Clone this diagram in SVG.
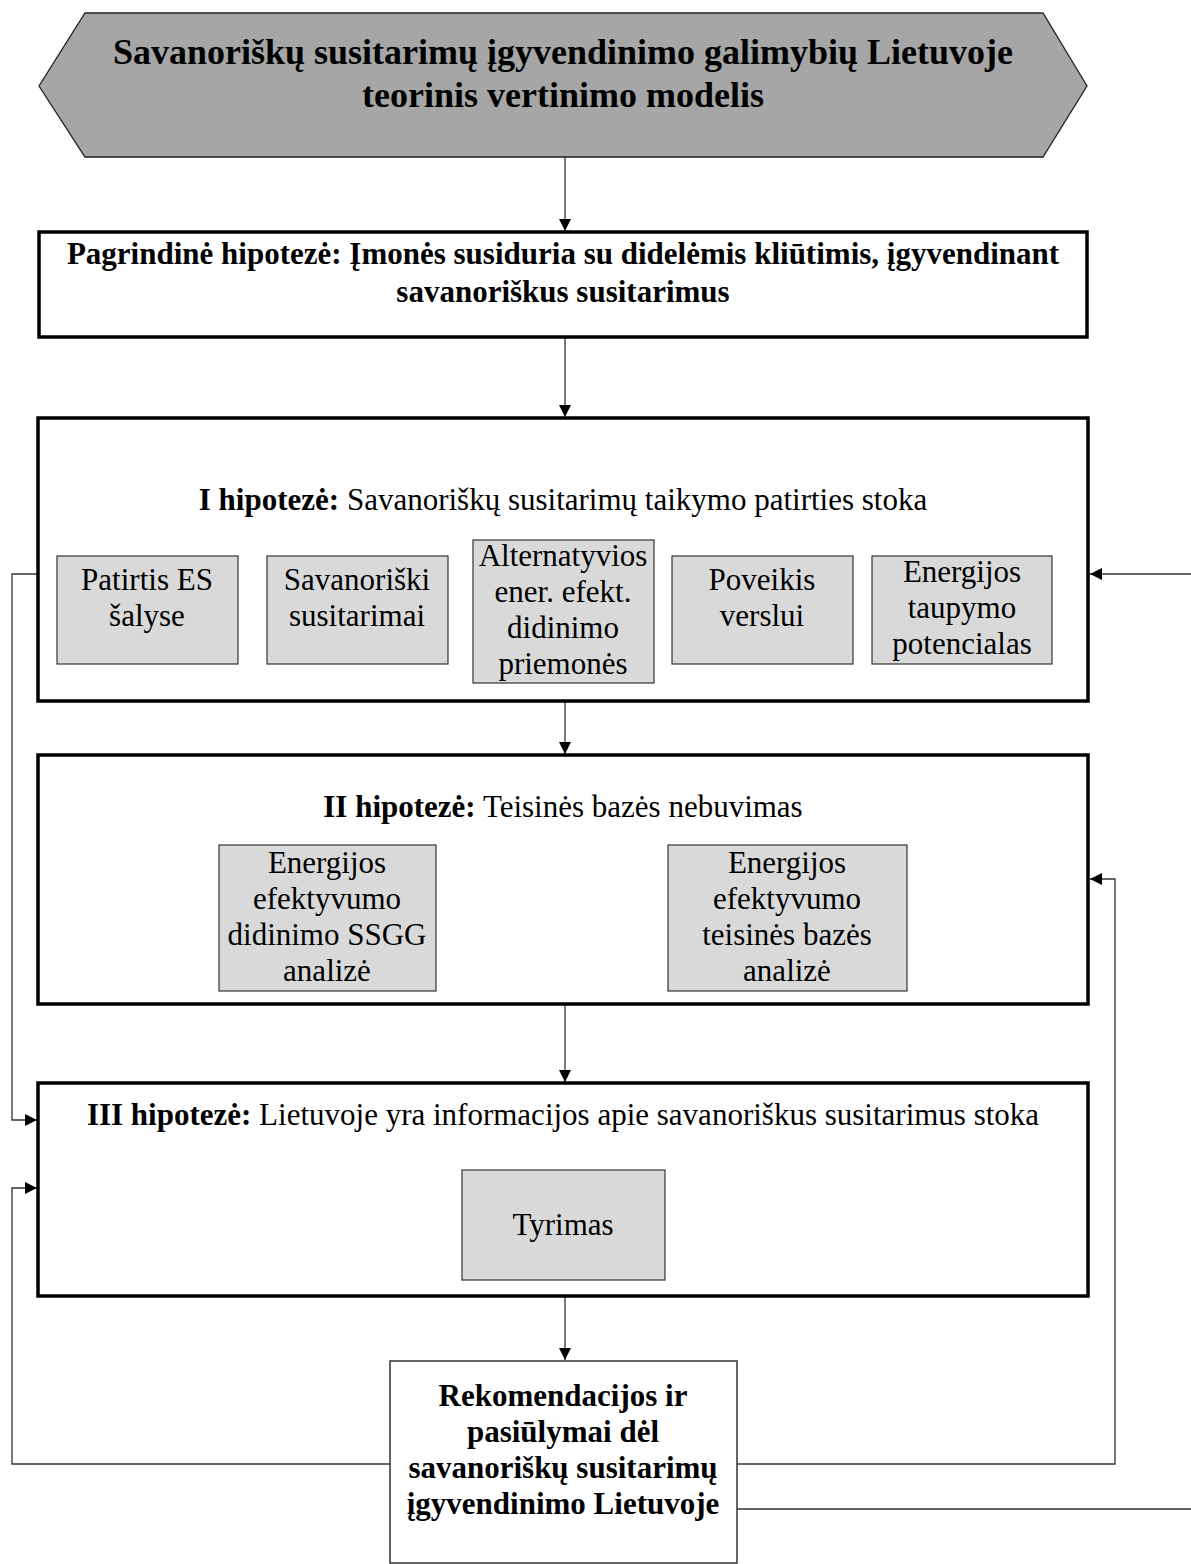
<svg xmlns="http://www.w3.org/2000/svg" width="1191" height="1564" viewBox="0 0 1191 1564">
<style>
text{font-family:"Liberation Serif","Times New Roman",serif;fill:#000;text-anchor:middle}
.t{font-size:31px}
.b{font-size:31px;font-weight:bold}
.h{font-size:36px;font-weight:bold}
.main{fill:#fff;stroke:#000;stroke-width:3.5}
.sub{fill:#d9d9d9;stroke:#333;stroke-width:1.2}
.c{fill:none;stroke:#333;stroke-width:1.3}
</style>
<defs>
<marker id="ah" markerWidth="12" markerHeight="12" refX="12" refY="6" orient="auto" markerUnits="userSpaceOnUse">
<path d="M0,0 L12,6 L0,12 Z" fill="#000"/>
</marker>
</defs>
<g id="connectors">
<line class="c" x1="565" y1="157" x2="565" y2="231" marker-end="url(#ah)"/>
<line class="c" x1="565" y1="338" x2="565" y2="417" marker-end="url(#ah)"/>
<line class="c" x1="565" y1="702" x2="565" y2="754" marker-end="url(#ah)"/>
<line class="c" x1="565" y1="1005" x2="565" y2="1082" marker-end="url(#ah)"/>
<line class="c" x1="565" y1="1297" x2="565" y2="1360" marker-end="url(#ah)"/>
<polyline class="c" points="37,574 12,574 12,1120 37,1120" marker-end="url(#ah)"/>
<polyline class="c" points="390,1464 12,1464 12,1188 37,1188" marker-end="url(#ah)"/>
<line class="c" x1="1191" y1="574" x2="1090" y2="574" marker-end="url(#ah)"/>
<polyline class="c" points="737,1464 1115,1464 1115,879 1090,879" marker-end="url(#ah)"/>
<line class="c" x1="737" y1="1509" x2="1191" y2="1509"/>
</g>
<g id="title">
<polygon points="85,13 1043,13 1087,86 1043,157 85,157 39,86" fill="#a6a6a6" stroke="#222" stroke-width="1.3"/>
<text class="h" x="563" y="64">Savanoriškų susitarimų įgyvendinimo galimybių Lietuvoje</text>
<text class="h" x="563" y="107">teorinis vertinimo modelis</text>
</g>
<g id="main-hypothesis">
<rect class="main" x="39" y="232" width="1048" height="105"/>
<text class="b" x="563" y="264">Pagrindinė hipotezė: Įmonės susiduria su didelėmis kliūtimis, įgyvendinant</text>
<text class="b" x="563" y="302">savanoriškus susitarimus</text>
</g>
<g id="hypothesis-1">
<rect class="main" x="38" y="418" width="1050" height="283"/>
<text class="t" x="563" y="510"><tspan font-weight="bold">I hipotezė:</tspan> Savanoriškų susitarimų taikymo patirties stoka</text>
</g>
<g id="patirtis">
<rect class="sub" x="57" y="556" width="181" height="108"/>
<text class="t" x="147" y="590">Patirtis ES</text>
<text class="t" x="147" y="626">šalyse</text>
</g>
<g id="savanoriski">
<rect class="sub" x="267" y="556" width="181" height="108"/>
<text class="t" x="357" y="590">Savanoriški</text>
<text class="t" x="357" y="626">susitarimai</text>
</g>
<g id="alternatyvios">
<rect class="sub" x="473" y="540" width="181" height="143"/>
<text class="t" x="563" y="566">Alternatyvios</text>
<text class="t" x="563" y="602">ener. efekt.</text>
<text class="t" x="563" y="638">didinimo</text>
<text class="t" x="563" y="674">priemonės</text>
</g>
<g id="poveikis">
<rect class="sub" x="672" y="556" width="181" height="108"/>
<text class="t" x="762" y="590">Poveikis</text>
<text class="t" x="762" y="626">verslui</text>
</g>
<g id="taupymo">
<rect class="sub" x="872" y="556" width="180" height="108"/>
<text class="t" x="962" y="582">Energijos</text>
<text class="t" x="962" y="618">taupymo</text>
<text class="t" x="962" y="654">potencialas</text>
</g>
<g id="hypothesis-2">
<rect class="main" x="38" y="755" width="1050" height="249"/>
<text class="t" x="563" y="817"><tspan font-weight="bold">II hipotezė:</tspan> Teisinės bazės nebuvimas</text>
</g>
<g id="ssgg">
<rect class="sub" x="219" y="845" width="217" height="146"/>
<text class="t" x="327" y="873">Energijos</text>
<text class="t" x="327" y="909">efektyvumo</text>
<text class="t" x="327" y="945">didinimo SSGG</text>
<text class="t" x="327" y="981">analizė</text>
</g>
<g id="teisines">
<rect class="sub" x="668" y="845" width="239" height="146"/>
<text class="t" x="787" y="873">Energijos</text>
<text class="t" x="787" y="909">efektyvumo</text>
<text class="t" x="787" y="945">teisinės bazės</text>
<text class="t" x="787" y="981">analizė</text>
</g>
<g id="hypothesis-3">
<rect class="main" x="38" y="1083" width="1050" height="213"/>
<text class="t" x="563" y="1125"><tspan font-weight="bold">III hipotezė:</tspan> Lietuvoje yra informacijos apie savanoriškus susitarimus stoka</text>
</g>
<g id="tyrimas">
<rect class="sub" x="462" y="1170" width="203" height="110"/>
<text class="t" x="563" y="1235">Tyrimas</text>
</g>
<g id="rekomendacijos">
<rect x="390" y="1361" width="347" height="202" fill="#fff" stroke="#333" stroke-width="1.5"/>
<text class="b" x="563" y="1406">Rekomendacijos ir</text>
<text class="b" x="563" y="1442">pasiūlymai dėl</text>
<text class="b" x="563" y="1478">savanoriškų susitarimų</text>
<text class="b" x="563" y="1514">įgyvendinimo Lietuvoje</text>
</g>
</svg>
